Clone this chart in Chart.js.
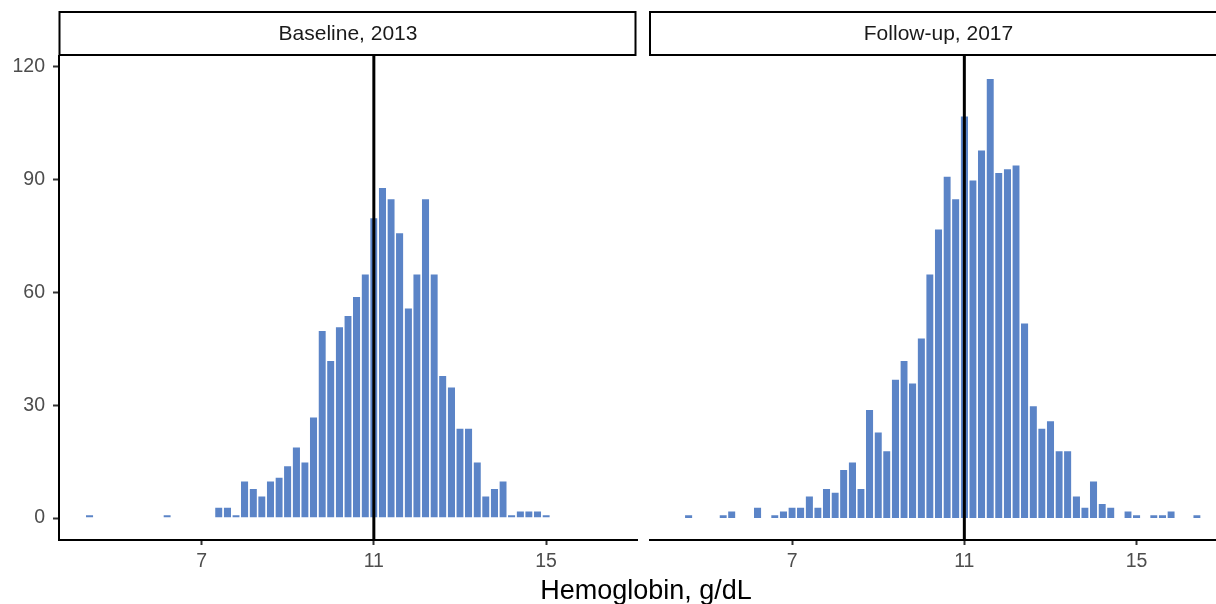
<!DOCTYPE html>
<html>
<head>
<meta charset="utf-8">
<script src="https://cdn.jsdelivr.net/npm/chart.js@4.4.0/dist/chart.umd.min.js"></script>
<style>
  html, body { margin: 0; padding: 0; background: #fff; overflow: hidden; }
  #wrap { position: relative; width: 1216px; height: 604px; overflow: hidden; }
  canvas { position: absolute; top: 0; }
  #left { left: 0; }
  #right { left: 640px; }
  #xtitle {
    position: absolute; left: 0; width: 1292px; top: 577px;
    text-align: center; font: 27px "Liberation Sans", Arial, sans-serif;
    line-height: 27px; color: #000; white-space: nowrap;
  }
</style>
</head>
<body>
<div id="wrap">
  <canvas id="left" width="640" height="604"></canvas>
  <canvas id="right" width="600" height="604"></canvas>
  <div id="xtitle">Hemoglobin, g/dL</div>
</div>
<script>
// bin centres (g/dL), bin width 0.2
const binCenters = [
  4.4, 4.6, 4.8, 5.0, 5.2, 5.4, 5.6, 5.8, 6.0, 6.2,
  6.4, 6.6, 6.8, 7.0, 7.2, 7.4, 7.6, 7.8, 8.0, 8.2,
  8.4, 8.6, 8.8, 9.0, 9.2, 9.4, 9.6, 9.8, 10.0, 10.2,
  10.4, 10.6, 10.8, 11.0, 11.2, 11.4, 11.6, 11.8, 12.0, 12.2,
  12.4, 12.6, 12.8, 13.0, 13.2, 13.4, 13.6, 13.8, 14.0, 14.2,
  14.4, 14.6, 14.8, 15.0, 15.2, 15.4, 15.6, 15.8, 16.0, 16.2,
  16.4
];
const baseline2013 = [
  1, 0, 0, 0, 0, 0, 0, 0, 0, 1,
  0, 0, 0, 0, 0, 3, 3, 1, 10, 8,
  6, 10, 11, 14, 19, 15, 27, 50, 42, 51,
  54, 59, 65, 80, 88, 85, 76, 56, 65, 85,
  65, 38, 35, 24, 24, 15, 6, 8, 10, 1,
  2, 2, 2, 1, 0, 0, 0, 0, 0, 0,
  0
];
const followUp2017 = [
  0, 1, 0, 0, 0, 1, 2, 0, 0, 3,
  0, 1, 2, 3, 3, 6, 3, 8, 7, 13,
  15, 8, 29, 23, 18, 37, 42, 36, 48, 65,
  77, 91, 85, 107, 90, 98, 117, 92, 93, 94,
  52, 30, 24, 26, 18, 18, 6, 3, 10, 4,
  3, 0, 2, 1, 0, 1, 1, 2, 0, 0,
  1
];
const panelTitles = ['Baseline, 2013', 'Follow-up, 2017'];
const xTicks = [7, 11, 15];
const yTicks = [0, 30, 60, 90, 120];
const cutoff = 11;

const FONT = '"Liberation Sans", Arial, sans-serif';

const stripPlugin = {
  id: 'strip',
  afterDraw(chart, args, opts) {
    const { ctx, chartArea: a } = chart;
    ctx.save();
    ctx.fillStyle = '#fff';
    ctx.fillRect(a.left, 12, a.right - a.left - 1, 43);
    ctx.strokeStyle = '#000';
    ctx.lineWidth = 2;
    ctx.strokeRect(a.left + 0.5, 12, a.right - a.left - 2, 43);
    ctx.fillStyle = '#1a1a1a';
    ctx.font = '21px ' + FONT;
    ctx.textAlign = 'center';
    ctx.textBaseline = 'middle';
    ctx.fillText(opts.text, (a.left + a.right) / 2, 34);
    ctx.restore();
  }
};

const cutoffPlugin = {
  id: 'cutoff',
  afterDatasetsDraw(chart) {
    const { ctx, chartArea: a } = chart;
    const x = chart.scales.x.getPixelForValue(cutoff);
    ctx.save();
    ctx.strokeStyle = '#000';
    ctx.lineWidth = 3;
    ctx.beginPath();
    ctx.moveTo(x, a.top);
    ctx.lineTo(x, a.bottom);
    ctx.stroke();
    ctx.restore();
  }
};

function makeChart(id, counts, title, showY, padding) {
  return new Chart(document.getElementById(id), {
    type: 'bar',
    data: {
      datasets: [{
        data: binCenters.map((c, i) => ({ x: c, y: counts[i] })),
        backgroundColor: '#5b84c7',
        borderColor: '#fff',
        borderWidth: { top: 1, left: 0, right: 0, bottom: 0 },
        borderSkipped: false,
        barPercentage: 0.85,
        categoryPercentage: 1
      }]
    },
    options: {
      responsive: false,
      animation: false,
      layout: { padding: padding },
      plugins: {
        legend: { display: false },
        tooltip: { enabled: false },
        strip: { text: title }
      },
      scales: {
        x: {
          type: 'linear',
          min: 3.69,
          max: 17.11,
          offset: false,
          afterBuildTicks: s => { s.ticks = xTicks.map(v => ({ value: v })); },
          afterFit: s => { s.height = 30; },
          grid: { offset: false, drawOnChartArea: false, drawTicks: true, tickLength: 5, tickColor: '#333', tickWidth: 2 },
          border: { display: true, color: '#000', width: 2 },
          ticks: { color: '#4d4d4d', font: { family: FONT, size: 19.5 }, padding: 5, maxRotation: 0 }
        },
        y: {
          display: showY,
          min: -5.85,
          max: 122.85,
          afterBuildTicks: s => { s.ticks = yTicks.map(v => ({ value: v })); },
          afterFit: s => { s.width = showY ? 59 : 0; },
          grid: { drawOnChartArea: false, drawTicks: true, tickLength: 6, tickColor: '#333', tickWidth: 2 },
          border: { display: true, color: '#000', width: 2 },
          ticks: { color: '#4d4d4d', font: { family: FONT, size: 19.5 }, padding: 8 }
        }
      }
    },
    plugins: [cutoffPlugin, stripPlugin]
  });
}

makeChart('left', baseline2013, panelTitles[0], true, { top: 56, right: 3, bottom: 34, left: 0 });
makeChart('right', followUp2017, panelTitles[1], false, { top: 56, right: 12.5, bottom: 34, left: 9.5 });
</script>
</body>
</html>
